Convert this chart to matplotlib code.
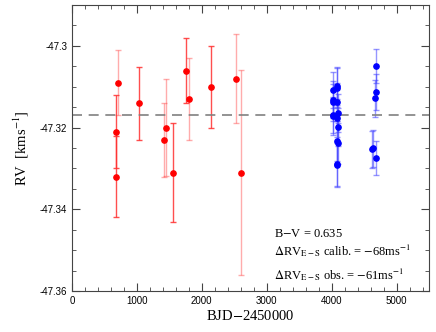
import matplotlib
matplotlib.use("Agg")
import matplotlib.pyplot as plt
from matplotlib.ticker import MultipleLocator

plt.rcParams["mathtext.fontset"] = "stix"

# red series (older instrument)
red_t = [703, 682, 682, 1036, 1420, 1446, 1559, 1754, 1810, 2138, 2533, 2610]
red_rv = [-47.3090, -47.3210, -47.3320, -47.3141, -47.3230, -47.3200,
          -47.3310, -47.3061, -47.3130, -47.3100, -47.3080, -47.3310]
red_err = [0.0080, 0.0089, 0.0100, 0.0090, 0.0090, 0.0119,
           0.0120, 0.0080, 0.0100, 0.0100, 0.0110, 0.0250]
red_pale = [True, False, False, False, True, True,
            False, False, True, False, True, True]

# blue series (newer instrument)
blue_t = [4020, 4020, 4020, 4020, 4020, 4087, 4087, 4087, 4092, 4087,
          4092, 4087, 4092, 4087, 4087, 4687, 4687, 4662, 4615, 4641, 4677]
blue_rv = [-47.3108, -47.3132, -47.3138, -47.3169, -47.3172, -47.3098,
           -47.3102, -47.3138, -47.3164, -47.3176, -47.3199, -47.3233,
           -47.3239, -47.3289, -47.3292, -47.3050, -47.3113, -47.3128,
           -47.3253, -47.3251, -47.3275]
blue_err = [0.0045, 0.0045, 0.0045, 0.0045, 0.0045, 0.0047, 0.0047, 0.0047,
            0.0047, 0.0047, 0.0047, 0.0050, 0.0050, 0.0054, 0.0054,
            0.0042, 0.0045, 0.0045, 0.0045, 0.0045, 0.0042]

rv_mean = -47.317

fig = plt.figure(figsize=(4.36, 3.32), dpi=100)
ax = fig.add_axes([0.165, 0.1235, 0.819, 0.8615])

for t, rv, e, pale in zip(red_t, red_rv, red_err, red_pale):
    ax.errorbar(t, rv, yerr=e, fmt="none", ecolor="#ff3030",
                alpha=0.4 if pale else 0.85, elinewidth=1.0, capsize=2.5)
ax.plot(red_t, red_rv, "o", color="red", ms=3.8, zorder=5)

ax.errorbar(blue_t, blue_rv, yerr=blue_err, fmt="none", ecolor="#4040ff",
            alpha=0.55, elinewidth=1.0, capsize=2.5)
ax.plot(blue_t, blue_rv, "o", color="blue", ms=3.8, zorder=5)

ax.axhline(rv_mean, color="gray", ls=(0, (6, 4)), lw=1.2)

ax.set_xlim(0, 5500)
ax.set_ylim(-47.36, -47.29)
ax.xaxis.set_major_locator(MultipleLocator(1000))
ax.xaxis.set_minor_locator(MultipleLocator(200))
ax.yaxis.set_major_locator(MultipleLocator(0.02))
ax.yaxis.set_minor_locator(MultipleLocator(0.005))
ax.set_yticks([-47.36, -47.34, -47.32, -47.3])
ax.set_yticklabels(["-47.36", "-47.34", "-47.32", "-47.3"])
ax.tick_params(which="both", direction="in", top=True, right=True,
               labelsize=7, color="#444444")
for lab in ax.get_xticklabels() + ax.get_yticklabels():
    lab.set_family("Liberation Sans")
ax.tick_params(which="major", length=6)
ax.tick_params(which="minor", length=3)
for s in ax.spines.values():
    s.set_color("#444444")

ax.set_xlabel("BJD$-$2450000", family="Liberation Serif", fontsize=10.5,
              labelpad=2)
ax.set_ylabel("RV  [kms$^{-1}$]", family="Liberation Serif", fontsize=10.5,
              labelpad=6)

txt = dict(family="Liberation Serif", fontsize=9, va="center")
ax.text(3110, -47.3460, "B$-$V = 0.635", **txt)
ax.text(3110, -47.3502, r"$\Delta$RV$_{\rm E-S}$ calib. = $-$68ms$^{-1}$", **txt)
ax.text(3110, -47.3560, r"$\Delta$RV$_{\rm E-S}$ obs. = $-$61ms$^{-1}$", **txt)

fig.savefig("out.png", dpi=100)
